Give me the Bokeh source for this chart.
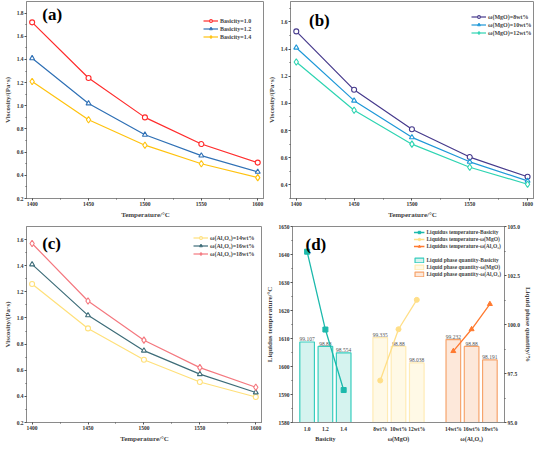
from bokeh.plotting import figure
from bokeh.models import (Range1d, FactorRange, LinearAxis, Legend, LegendItem, Label,
                          SingleIntervalTicker, PrintfTickFormatter)
from bokeh.layouts import row, column
from bokeh.embed import file_html
from bokeh.resources import INLINE
from bokeh.core.properties import value

# ---------------- data ----------------
temps = [1400, 1450, 1500, 1550, 1600]

a_names = ["Basicity=1.0", "Basicity=1.2", "Basicity=1.4"]
a_b10 = [1.72, 1.24, 0.90, 0.67, 0.51]
a_b12 = [1.41, 1.02, 0.75, 0.57, 0.43]
a_b14 = [1.21, 0.88, 0.66, 0.50, 0.38]

b_names = ["ω(MgO)=8wt%", "ω(MgO)=10wt%", "ω(MgO)=12wt%"]
b_m8 = [1.53, 1.10, 0.81, 0.605, 0.46]
b_m10 = [1.41, 1.02, 0.75, 0.57, 0.43]
b_m12 = [1.305, 0.95, 0.70, 0.53, 0.405]

c_names = ["ω(Al₂O₃)=14wt%", "ω(Al₂O₃)=16wt%", "ω(Al₂O₃)=18wt%"]
c_a14 = [1.26, 0.92, 0.68, 0.51, 0.395]
c_a16 = [1.41, 1.02, 0.75, 0.57, 0.43]
c_a18 = [1.57, 1.13, 0.83, 0.62, 0.47]

d_groups = ["Basicity", "ω(MgO)", "ω(Al₂O₃)"]
d_basicity = ["1.0", "1.2", "1.4"]
d_mgo = ["8wt%", "10wt%", "12wt%"]
d_al = ["14wt%", "16wt%", "18wt%"]
d_T_bas = [1641.0, 1613.2, 1591.6]
d_T_mgo = [1595.0, 1613.3, 1623.8]
d_T_al = [1605.5, 1613.3, 1622.3]
d_Q_bas = [99.107, 98.88, 98.554]
d_Q_mgo = [99.335, 98.88, 98.038]
d_Q_al = [99.232, 98.88, 98.191]
d_line_names = ["Liquidus temperature-Basicity", "Liquidus temperature-ω(MgO)",
                "Liquidus temperature-ω(Al₂O₃)"]
d_bar_names = ["Liquid phase quantity-Basicity", "Liquid phase quantity-ω(MgO)",
               "Liquid phase quantity-ω(Al₂O₃)"]

FONT = "Liberation Serif"


def style_axes(p):
    p.outline_line_color = "#8a8a8a"
    p.outline_line_width = 1
    p.xgrid.visible = False
    p.ygrid.visible = False
    p.background_fill_color = "white"
    for ax in p.axis:
        ax.axis_label_text_font = FONT
        ax.axis_label_text_font_style = "bold"
        ax.axis_label_text_font_size = "7px"
        ax.major_label_text_font = FONT
        ax.major_label_text_font_style = "bold"
        ax.major_label_text_font_size = "5.5px"
        ax.major_label_text_color = "#333333"
        ax.axis_line_color = "#8a8a8a"
        ax.major_tick_line_color = "#555555"
        ax.minor_tick_line_color = "#555555"
        ax.major_tick_in = 0
        ax.major_tick_out = 2
        ax.minor_tick_in = 0
        ax.minor_tick_out = 1
        ax.major_label_standoff = 1
        ax.axis_label_standoff = 2


def line_panel(series, names, colors, markers, yr, tag, tag_xy, w, h, borders, leg_xy):
    L, R, T, B = borders
    p = figure(width=w, height=h, x_range=Range1d(1395, 1606), y_range=Range1d(*yr),
               output_backend="svg", toolbar_location=None,
               min_border_left=L, min_border_right=R, min_border_top=T, min_border_bottom=B)
    p.xaxis.ticker = SingleIntervalTicker(interval=50, num_minor_ticks=2)
    p.yaxis.ticker = SingleIntervalTicker(interval=0.2, num_minor_ticks=2)
    p.yaxis.formatter = PrintfTickFormatter(format="%.1f")
    p.xaxis.axis_label = "Temperature/°C"
    p.yaxis.axis_label = "Viscosity/(Pa·s)"
    items = []
    for ys, nm, col, mk in zip(series, names, colors, markers):
        lr = p.line(temps, ys, line_color=col, line_width=1.2)
        sr = p.scatter(temps, ys, marker=mk, size=5 if mk != "diamond" else 6.5,
                       line_color=col, fill_color="white", line_width=1.1)
        items.append(LegendItem(label=nm, renderers=[lr, sr]))
    leg = Legend(items=items, location=leg_xy, border_line_color=None,
                 background_fill_alpha=0, label_text_font=FONT,
                 label_text_font_style="bold", label_text_font_size="6px",
                 glyph_width=15, glyph_height=7, label_height=7, spacing=1,
                 padding=1, margin=0, label_standoff=2)
    p.add_layout(leg, "center")
    style_axes(p)
    p.add_layout(Label(x=tag_xy[0], y=tag_xy[1], text=tag, text_font=FONT,
                       text_font_style="bold", text_font_size="17px",
                       text_baseline="top", text_color="black"))
    return p


pa = line_panel([a_b10, a_b12, a_b14], a_names, ["#FF2B2B", "#2F70B5", "#FFC20E"],
                ["circle", "triangle", "diamond"], (0.2, 1.9), "(a)", (1409, 1.87),
                264, 222, (22, 0, 1, 24), (177, 158))
pb = line_panel([b_m8, b_m10, b_m12], b_names, ["#463A8C", "#1E98D8", "#2ED4B2"],
                ["circle", "triangle", "diamond"], (0.3, 1.75), "(b)", (1411, 1.68),
                270, 222, (22, 0, 0, 24), (181, 162))
pc = line_panel([c_a14, c_a16, c_a18], c_names, ["#FFE07A", "#3D6C78", "#F4787F"],
                ["circle", "triangle", "diamond"], (0.2, 1.7), "(c)", (1409, 1.64),
                262, 223, (22, 0, 4, 22), (167, 165))

# ---------------- panel d ----------------
cats = [d_basicity, d_mgo, d_al]
factors = [(g, c) for g, cs in zip(d_groups, cats) for c in cs]
xr = FactorRange(factors=factors, group_padding=1.0, range_padding=0.3,
                 range_padding_units="absolute")
pd_ = figure(width=272, height=223, x_range=xr, y_range=Range1d(1580, 1650),
             output_backend="svg", toolbar_location=None,
             min_border_left=22, min_border_right=0, min_border_top=3, min_border_bottom=14)
pd_.extra_y_ranges = {"q": Range1d(95, 105)}
right_ax = LinearAxis(y_range_name="q", axis_label="Liquid phase quantity/%",
                      ticker=SingleIntervalTicker(interval=2.5, num_minor_ticks=2),
                      formatter=PrintfTickFormatter(format="%.1f"))
pd_.add_layout(right_ax, "right")
pd_.yaxis[0].axis_label = "Liquidus temperature/°C"
pd_.yaxis[0].ticker = SingleIntervalTicker(interval=10, num_minor_ticks=2)

bar_fill = ["#D5F3EF", "#FFF9E6", "#FDE8DA"]
bar_line = ["#38CDBE", "#FFEBB5", "#F6A46C"]
line_cols = ["#1CB9AC", "#FFDF88", "#FF7A30"]
line_marks = ["square", "circle", "triangle"]
Q_all = [d_Q_bas, d_Q_mgo, d_Q_al]
T_all = [d_T_bas, d_T_mgo, d_T_al]

bar_items = []
for g, cs, qs, fc, lc, nm in zip(d_groups, cats, Q_all, bar_fill, bar_line, d_bar_names):
    xs = [(g, c) for c in cs]
    br = pd_.vbar(x=xs, top=qs, bottom=95, width=0.8, fill_color=fc, line_color=lc,
                  line_width=1.2, y_range_name="q")
    pd_.text(x=xs, y=[q + 0.04 for q in qs], text=[str(q) for q in qs], y_range_name="q",
             text_font=value(FONT), text_font_size="5.5px", text_color="#555555",
             text_align="center", text_baseline="bottom")
    bar_items.append(LegendItem(label=nm, renderers=[br]))

line_items = []
for g, cs, ts, col, mk, nm in zip(d_groups, cats, T_all, line_cols, line_marks, d_line_names):
    xs = [(g, c) for c in cs]
    lr = pd_.line(xs, ts, line_color=col, line_width=1.3)
    sr = pd_.scatter(xs, ts, marker=mk, size=5, line_color=col, fill_color=col)
    line_items.append(LegendItem(label=nm, renderers=[lr, sr]))

# invisible spacer between the two legend blocks
spacer = pd_.scatter(x=[], y=[], marker="square", size=1, line_alpha=0, fill_alpha=0)
all_items = line_items + [LegendItem(label=" ", renderers=[spacer])] + bar_items

leg_d = Legend(items=all_items, location="top_right", border_line_color=None,
               background_fill_alpha=0, label_text_font=FONT,
               label_text_font_style="bold", label_text_font_size="5.5px",
               glyph_width=11, glyph_height=6, label_height=6, spacing=1,
               padding=2, margin=3, label_standoff=2)
pd_.add_layout(leg_d, "center")
style_axes(pd_)
right_ax.axis_label_standoff = 1
xa = pd_.xaxis[0]
xa.group_text_font = FONT
xa.group_text_font_style = "bold"
xa.group_text_font_size = "6px"
xa.group_text_color = "#333333"
xa.separator_line_color = None
xa.major_tick_line_color = None
pd_.add_layout(Label(x=13, y=1647, x_units="screen", text="(d)", text_font=FONT,
                     text_font_style="bold", text_font_size="17px",
                     text_baseline="top", text_color="black"))

layout = column(row(pa, pb), row(pc, pd_))
open("out.html", "w").write(file_html(layout, INLINE))
